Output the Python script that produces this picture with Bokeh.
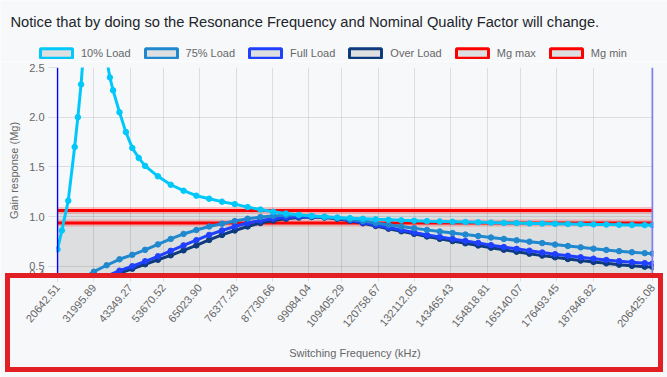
from bokeh.plotting import figure
from bokeh.layouts import column
from bokeh.models import (FixedTicker, PrintfTickFormatter, Span, Legend, LegendItem,
                          Range1d, Label, InlineStyleSheet)
from bokeh.embed import file_html
from bokeh.resources import INLINE

# ---------------- data ----------------
title_text = "Notice that by doing so the Resonance Frequency and Nominal Quality Factor will change."
x_title = "Switching Frequency (kHz)"
y_title = "Gain response (Mg)"

x_tick_labels = [20642.51, 31995.89, 43349.27, 53670.52, 65023.90, 76377.28, 87730.66,
                 99084.04, 109405.29, 120758.67, 132112.05, 143465.43, 154818.81,
                 165140.07, 176493.45, 187846.82, 206425.08]
y_ticks = [0.427, 0.5, 1.0, 1.5, 2.0, 2.5]

series_names = ["10% Load", "75% Load", "Full Load", "Over Load", "Mg max", "Mg min"]

freq = [20642.51, 24000, 28000, 32000, 36000, 40000, 44000, 48000, 52000, 56000,
        60000, 64000, 68000, 72000, 76000, 80000, 84000, 88000, 92000, 96000,
        100000, 104000, 108000, 112000, 116000, 120000, 124000, 128000, 132000, 136000,
        140000, 144000, 148000, 152000, 156000, 160000, 164000, 168000, 172000, 176000,
        180000, 184000, 188000, 192000, 196000, 200000, 204000, 206425.08]

freq_10 = [20642.51, 22000, 24000, 26000, 27000, 28000, 29000, 30000, 32000, 34000,
           36000, 37000, 38000, 40000, 42000, 44000, 46000, 48000, 52000, 56000,
           60000, 64000, 68000, 72000, 76000, 80000, 84000, 88000, 92000, 96000,
           100000, 104000, 108000, 112000, 116000, 120000, 124000, 128000, 132000, 136000,
           140000, 144000, 148000, 152000, 156000, 160000, 164000, 168000, 172000, 176000,
           180000, 184000, 188000, 192000, 196000, 200000, 204000, 206425.08]

load_10 = [0.67, 0.86, 1.16, 1.70, 2.00, 2.33, 2.75, 3.10, 3.45, 3.15,
           2.58, 2.40, 2.27, 2.05, 1.85, 1.69, 1.59, 1.51, 1.405, 1.32,
           1.26, 1.21, 1.18, 1.15, 1.125, 1.095, 1.07, 1.048, 1.03, 1.017,
           1.006, 0.998, 0.99, 0.984, 0.978, 0.972, 0.967, 0.962, 0.958, 0.954,
           0.951, 0.948, 0.945, 0.942, 0.939, 0.936, 0.934, 0.931, 0.929, 0.927,
           0.925, 0.923, 0.921, 0.919, 0.917, 0.915, 0.914, 0.913]

load_75 = [0.28, 0.31, 0.37, 0.445, 0.51, 0.57, 0.615, 0.665, 0.72, 0.775,
           0.825, 0.865, 0.90, 0.928, 0.955, 0.978, 0.995, 1.006, 1.012, 1.012,
           1.005, 0.995, 0.985, 0.97, 0.955, 0.935, 0.917, 0.90, 0.883, 0.866,
           0.85, 0.834, 0.819, 0.804, 0.789, 0.775, 0.761, 0.747, 0.733, 0.718,
           0.704, 0.69, 0.677, 0.664, 0.652, 0.641, 0.632, 0.628]

load_full = [0.22, 0.25, 0.30, 0.35, 0.40, 0.455, 0.50, 0.55, 0.60, 0.655,
             0.71, 0.762, 0.815, 0.86, 0.90, 0.935, 0.96, 0.978, 0.99, 0.998,
             1.0, 0.995, 0.983, 0.963, 0.94, 0.915, 0.89, 0.865, 0.84, 0.815,
             0.795, 0.775, 0.755, 0.735, 0.712, 0.693, 0.675, 0.656, 0.638, 0.621,
             0.605, 0.59, 0.576, 0.563, 0.551, 0.54, 0.531, 0.527]

load_over = [0.20, 0.22, 0.26, 0.31, 0.37, 0.43, 0.475, 0.52, 0.565, 0.61,
             0.66, 0.71, 0.765, 0.815, 0.86, 0.90, 0.935, 0.96, 0.978, 0.99,
             0.995, 0.99, 0.978, 0.957, 0.932, 0.905, 0.878, 0.852, 0.826, 0.80,
             0.776, 0.753, 0.731, 0.709, 0.687, 0.666, 0.646, 0.626, 0.607, 0.59,
             0.573, 0.557, 0.543, 0.529, 0.516, 0.504, 0.496, 0.493]

mg_freq = [20642.51, 206425.08]
mg_max = [1.06, 1.06]
mg_min = [0.935, 0.935]

# ---------------- styles ----------------
BG = "#f7f8fa"
TXT = "#666666"
FONT = "Liberation Sans"
c10, c75, cfull, cover, cred = "#00c8fa", "#1f88cf", "#2040ff", "#0d3b7d", "#ff0000"
legend_colors = [c10, c75, cfull, cover, cred, cred]

# ---------------- header: sentence + legend ----------------
HEAD_H = 61
head = figure(width=667, height=HEAD_H, output_backend="svg", toolbar_location=None,
              title=None, x_range=Range1d(0, 667), y_range=Range1d(0, HEAD_H),
              x_axis_location=None, y_axis_location=None,
              min_border_left=0, min_border_right=0, min_border_top=0, min_border_bottom=0,
              background_fill_color=BG, border_fill_color=BG, outline_line_color=None)
head.frame_align = False
head.grid.visible = False
head.add_layout(Label(x=10, y=HEAD_H - 21.5, text=title_text, text_font=FONT,
                      text_font_size="14.7px", text_color="#212529",
                      text_baseline="alphabetic"))
items = []
for name, col in zip(series_names, legend_colors):
    # legend swatch proxy, kept outside the visible header range
    r = head.quad(left=[-20], right=[-10], top=[-10], bottom=[-20], fill_color="#dedfe1",
                  fill_alpha=1.0, line_color=col, line_width=3)
    items.append(LegendItem(label=name, renderers=[r]))
head.add_layout(Legend(items=items, orientation="horizontal", location=(36, 2),
                       glyph_width=40, glyph_height=12, label_height=12, label_standoff=5,
                       spacing=10, padding=0, margin=0, background_fill_alpha=0,
                       border_line_color=None, label_text_font=FONT,
                       label_text_font_size="11px", label_text_color=TXT))

# ---------------- main chart ----------------
# one pixel of room either side so the range marker lines are drawn whole
px_hz = (206425.08 - 20642.51) / 595.0
p = figure(width=667, height=377 - HEAD_H, output_backend="svg", toolbar_location=None,
           title=None, x_range=Range1d(20642.51 - px_hz, 206425.08 + px_hz),
           y_range=Range1d(0.427, 2.5),
           min_border_left=56, min_border_right=14, min_border_top=6, min_border_bottom=104,
           background_fill_color=BG, border_fill_color=BG, outline_line_color=None)
p.frame_align = False

p.xaxis.ticker = FixedTicker(ticks=x_tick_labels)
p.xaxis.formatter = PrintfTickFormatter(format="%.2f")
p.xaxis.major_label_orientation = 0.8727
p.xaxis.axis_label = x_title
p.yaxis.ticker = FixedTicker(ticks=y_ticks)
p.yaxis.formatter = PrintfTickFormatter(format="%.1f")
p.yaxis.axis_label = y_title
for ax in (p.xaxis, p.yaxis):
    ax.axis_line_color = None
    ax.major_tick_in = 0
    ax.major_tick_out = 8
    ax.major_tick_line_color = "#000000"
    ax.major_tick_line_alpha = 0.1
    ax.minor_tick_line_color = None
    ax.major_label_text_font = FONT
    ax.major_label_text_font_size = "11px"
    ax.major_label_text_color = TXT
    ax.axis_label_text_font = FONT
    ax.axis_label_text_font_size = "11px"
    ax.axis_label_text_color = TXT
    ax.axis_label_text_font_style = "normal"
p.xaxis.major_label_standoff = 4
p.xaxis.axis_label_standoff = 14
p.yaxis.major_label_standoff = 4
p.yaxis.axis_label_standoff = 6
p.grid.grid_line_color = "#000000"
p.grid.grid_line_alpha = 0.1

# shaded band below Mg max
p.varea(x=mg_freq, y1=[0, 0], y2=mg_max, fill_color="#000000", fill_alpha=0.1)

# Mg lines
for yy in (mg_min, mg_max):
    p.line(mg_freq, yy, line_color=cred, line_alpha=0.22, line_width=7)
    p.line(mg_freq, yy, line_color=cred, line_width=3)

# curves (first dataset on top)
for fx, vals, col in ((freq, load_over, cover), (freq, load_full, cfull),
                      (freq, load_75, c75), (freq_10, load_10, c10)):
    p.line(fx, vals, line_color=col, line_width=3)
    p.scatter(fx, vals, size=5.5, fill_color=col, line_color=col)

# vertical range markers
p.add_layout(Span(location=x_tick_labels[0], dimension="height", line_color="#0000ff", line_width=1.5))
p.add_layout(Span(location=x_tick_labels[-1], dimension="height", line_color="#8080f0", line_width=2))

page = column(head, p, spacing=0)
# red highlight frame drawn around the x axis area of the page
page.stylesheets = [InlineStyleSheet(css=(
    ":host { position: relative; }"
    ":host::after { content: ''; position: absolute; left: 5px; top: 273px; "
    "width: 658px; height: 99px; border: 5px solid #e31f26; box-sizing: border-box; "
    "pointer-events: none; z-index: 10; }"))]

open("out.html", "w").write(file_html(page, INLINE))
